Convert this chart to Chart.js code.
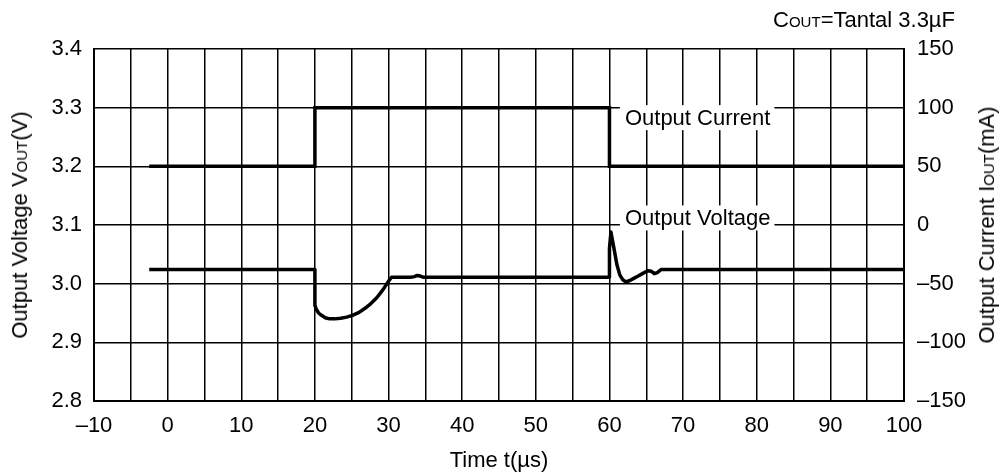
<!DOCTYPE html>
<html>
<head>
<meta charset="utf-8">
<script src="https://cdn.jsdelivr.net/npm/chart.js@4/dist/chart.umd.min.js"></script>
<style>
    html, body { margin: 0; padding: 0; background: #fff; }
    #wrap { position: relative; width: 1004px; height: 475px; font-family: "Liberation Sans", Arial, sans-serif; color: #000; }
    .txt { position: absolute; font-size: 22px; white-space: nowrap; line-height: 1; }
    .sc { font-variant: small-caps; }
    .rot { transform: translate(-50%, -50%) rotate(-90deg); }
</style>
</head>
<body>
<div id="wrap">
    <canvas id="respChart" width="1004" height="475"></canvas>
    <div class="txt rot" style="left:20px; top:225px;">Output Voltage V<span class="sc">out</span>(V)</div>
    <div class="txt rot" style="left:987px; top:225px;">Output Current I<span class="sc">out</span>(mA)</div>
    <div class="txt" style="right:49px; top:9px;">C<span class="sc">out</span>=Tantal 3.3µF</div>
</div>
<script>
// Ejes
const timeTicks = [-10, -5, 0, 5, 10, 15, 20, 25, 30, 35, 40, 45, 50, 55, 60, 65, 70, 75, 80, 85, 90, 95, 100];
const timeLabels = ['–10', '', '0', '', '10', '', '20', '', '30', '', '40', '', '50', '', '60', '', '70', '', '80', '', '90', '', '100'];
const voltTicks = [2.8, 2.9, 3.0, 3.1, 3.2, 3.3, 3.4];
const voltLabels = ['2.8', '2.9', '3.0', '3.1', '3.2', '3.3', '3.4'];
const currTicks = [-150, -100, -50, 0, 50, 100, 150];
const currLabels = ['–150', '–100', '–50', '0', '50', '100', '150'];

// Corriente de salida (mA)
const currentT = [-2.5, 20, 20, 60, 60, 100];
const currentMA = [50, 50, 100, 100, 50, 50];

// Tension de salida (V)
const voltageT = [-2.5, 20, 20, 20.2, 20.5, 20.9, 21.4, 22.0, 22.7, 23.5, 24.3, 25.1, 26.0, 26.8, 27.6, 28.4, 29.2, 30.0, 30.4,
    33, 33.5, 33.9, 34.3, 34.7, 60, 60, 60.2, 60.6, 61.0, 61.4, 61.8, 62.2, 62.7, 63.3, 63.9, 64.6, 65.2, 65.7, 66.1, 66.5, 67, 100];
const voltageV = [3.024, 3.024, 2.963, 2.956, 2.950, 2.946, 2.942, 2.940, 2.940, 2.941, 2.943, 2.946, 2.951, 2.958, 2.966, 2.976, 2.989, 3.004, 3.011,
    3.011, 3.012, 3.014, 3.013, 3.011, 3.011, 3.060, 3.088, 3.061, 3.033, 3.015, 3.007, 3.003, 3.005, 3.009, 3.013, 3.018, 3.022, 3.021, 3.017, 3.019, 3.024, 3.024];

const FONT = '"Liberation Sans", Arial, sans-serif';

// Etiquetas con fondo blanco sobre la grilla
const labelPlugin = {
    id: 'curveLabels',
    beforeDatasetsDraw(chart) {
        const ctx = chart.ctx;
        const x = chart.scales.x, y = chart.scales.y;
        const items = [
            { text: 'Output Current', t: 62.1, v: 3.283 },
            { text: 'Output Voltage', t: 62.1, v: 3.112 }
        ];
        ctx.save();
        ctx.font = '22px ' + FONT;
        ctx.textBaseline = 'middle';
        items.forEach(it => {
            const px = x.getPixelForValue(it.t);
            const py = y.getPixelForValue(it.v);
            const w = ctx.measureText(it.text).width;
            ctx.fillStyle = '#fff';
            ctx.fillRect(px - 5, py - 12.5, w + 9, 25);
            ctx.fillStyle = '#000';
            ctx.fillText(it.text, px, py + 1);
        });
        ctx.restore();
    }
};

function setTicks(list) {
    return axis => { axis.ticks = list.map(v => ({ value: v })); };
}

const ctx = document.getElementById('respChart').getContext('2d');
const respChart = new Chart(ctx, {
    type: 'line',
    data: {
        datasets: [{
            label: 'Output Current',
            data: currentT.map((t, i) => ({ x: t, y: currentMA[i] })),
            yAxisID: 'y1',
            borderColor: '#000',
            borderWidth: 3.5,
            pointRadius: 0,
            tension: 0,
            fill: false
        }, {
            label: 'Output Voltage',
            data: voltageT.map((t, i) => ({ x: t, y: voltageV[i] })),
            yAxisID: 'y',
            borderColor: '#000',
            borderWidth: 3.5,
            borderJoinStyle: 'round',
            pointRadius: 0,
            tension: 0,
            fill: false
        }]
    },
    options: {
        responsive: false,
        animation: false,
        layout: { padding: { top: 49, left: 0, right: 0, bottom: 0 } },
        plugins: {
            legend: { display: false },
            tooltip: { enabled: false }
        },
        scales: {
            x: {
                type: 'linear',
                min: -10,
                max: 100,
                afterBuildTicks: setTicks(timeTicks),
                afterFit: axis => { axis.height = 74; },
                ticks: {
                    autoSkip: false,
                    maxRotation: 0,
                    color: '#000',
                    padding: 12,
                    font: { family: FONT, size: 22 },
                    callback: (v, i) => timeLabels[i]
                },
                grid: { color: '#000', lineWidth: 1.5, drawTicks: false },
                border: { color: '#000', width: 2 },
                title: {
                    display: true,
                    text: 'Time t(µs)',
                    color: '#000',
                    font: { family: FONT, size: 22 },
                    padding: { top: 0, bottom: 1 }
                }
            },
            y: {
                position: 'left',
                min: 2.8,
                max: 3.4,
                afterBuildTicks: setTicks(voltTicks),
                afterFit: axis => { axis.width = 94; },
                ticks: {
                    color: '#000',
                    padding: 12,
                    font: { family: FONT, size: 22 },
                    callback: (v, i) => voltLabels[i]
                },
                grid: { color: '#000', lineWidth: 1.5, drawTicks: false },
                border: { color: '#000', width: 2 }
            },
            y1: {
                position: 'right',
                min: -150,
                max: 150,
                afterBuildTicks: setTicks(currTicks),
                afterFit: axis => { axis.width = 100; },
                ticks: {
                    color: '#000',
                    padding: 13,
                    font: { family: FONT, size: 22 },
                    callback: (v, i) => currLabels[i]
                },
                grid: { display: false, drawTicks: false },
                border: { color: '#000', width: 2 }
            }
        }
    },
    plugins: [labelPlugin]
});
</script>
</body>
</html>
